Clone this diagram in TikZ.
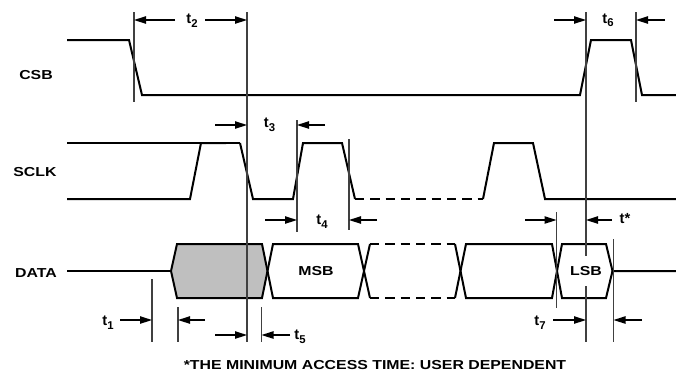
\documentclass[tikz,border=0pt]{standalone}
\usepackage{fontspec}
\setmainfont{Liberation Sans}
\usepackage{graphicx}
\usetikzlibrary{arrows.meta}
\newcommand{\stx}[1]{\scalebox{1.22}[1]{#1}}
\newcommand{\tsub}[1]{t\raisebox{-0.45ex}{\fontsize{8.5}{9}\selectfont #1}}
\tikzset{
  sig/.style={line width=1.5pt, line join=miter},
  idle/.style={line width=0.8pt},
  busdash/.style={line width=1.5pt, dash pattern=on 7pt off 4.5pt},
  vline/.style={line width=0.9pt, black!75},
  dim/.style={line width=1.1pt, -{Triangle[length=9pt,width=5.5pt]}},
  lab/.style={font=\bfseries\fontsize{9.75}{11}\selectfont, inner sep=0pt},
  tlab/.style={font=\bfseries\fontsize{11}{12}\selectfont, inner sep=0pt},
}
\begin{document}
\begin{tikzpicture}[x=0.75pt,y=-0.75pt]
\useasboundingbox (0,0) rectangle (676,376);

% vertical reference lines (x positions)
\coordinate (xA) at (134,0);
\coordinate (xB) at (247,0);
\coordinate (xC) at (586,0);
\coordinate (xD) at (636,0);
\coordinate (xE) at (297,0);
\coordinate (xF) at (349,0);
\coordinate (xG) at (556.5,0);
\coordinate (xH) at (152,0);
\coordinate (xI) at (178,0);
\coordinate (xJ) at (261.5,0);
\coordinate (xK) at (613.5,0);

% signal names
\node[lab] (csb) at (36,75.5) {\stx{CSB}};
\node[lab] (sclk) at (35,172) {\stx{SCLK}};
\node[lab] (data) at (36,273) {\stx{DATA}};

% CSB
\draw[sig] (67,40) -- (129,40) -- (142,95) -- (580,95) -- (591,40) -- (631,40) -- (642,95) -- (676,95);

% SCLK
\draw[idle] (67,143) -- (240,143);
\draw[sig] (67,199) -- (190,199) -- (201,143) -- (226,143);
\draw[sig] (240,143) -- (253,199) -- (293,199) -- (303,143) -- (342,143) -- (355,199);
\draw[busdash] (355,199) -- (483,199);
\draw[sig] (483,199) -- (494,143) -- (533,143) -- (545,199) -- (676,199);

% DATA
\fill[black!25] (171,271) -- (177,244) -- (262,244) -- (267.5,271) -- (262,298) -- (177,298) -- cycle;
\draw[sig] (67,271) -- (171,271);
\draw[sig] (171,271) -- (177,244) -- (262,244) -- (273,298) -- (358,298) -- (370,244);
\draw[sig] (171,271) -- (177,298) -- (262,298) -- (273,244) -- (358,244) -- (370,298);
\draw[busdash] (370,244) -- (455,244);
\draw[busdash] (370,298) -- (455,298);
\draw[sig] (455,244) -- (466,298) -- (552,298) -- (562,244) -- (606,244) -- (612.5,271) -- (676,271);
\draw[sig] (455,298) -- (466,244) -- (552,244) -- (562,298) -- (606,298) -- (612.5,271);
\node[lab] (msb) at (316,271) {\stx{MSB}};

% vertical lines
\draw[vline] (xA |- 0,12) -- (xA |- 0,102);
\draw[vline] (xB |- 0,12) -- (xB |- 0,342);
\draw[vline] (xC |- 0,12) -- (xC |- 0,256);
\draw[vline] (xC |- 0,286) -- (xC |- 0,342);
\draw[vline] (xD |- 0,12) -- (xD |- 0,102);
\draw[vline] (xE |- 0,120) -- (xE |- 0,232);
\draw[vline] (xF |- 0,139) -- (xF |- 0,230);
\draw[vline] (xG |- 0,212) -- (xG |- 0,308);
\draw[vline] (xH |- 0,279) -- (xH |- 0,342);
\draw[vline] (xI |- 0,307) -- (xI |- 0,342);
\draw[vline] (xJ |- 0,307) -- (xJ |- 0,342);
\draw[vline] (xK |- 0,239) -- (xK |- 0,342);
\node[lab] (lsb) at (586,271) {\stx{LSB}};

% timing labels
\node[tlab] (t2) at (192,20.5) {\tsub{2}};
\node[tlab] (t6) at (608,20.5) {\tsub{6}};
\node[tlab] (t3) at (269.5,125) {\tsub{3}};
\node[tlab] (t4) at (322,221.5) {\tsub{4}};
\node[tlab] (tst) at (625,219) {t*};
\node[tlab] (t1) at (108,322.5) {\tsub{1}};
\node[tlab] (t5) at (300,337) {\tsub{5}};
\node[tlab] (t7) at (540,322.5) {\tsub{7}};

% arrow tails
\coordinate (a2l) at (175,20);  \coordinate (a2r) at (205,20);
\coordinate (a6l) at (554,20);  \coordinate (a6r) at (665,20);
\coordinate (a3l) at (215,125); \coordinate (a3r) at (325,125);
\coordinate (a4l) at (265,220); \coordinate (a4r) at (377,220);
\coordinate (asl) at (525,220); \coordinate (asr) at (612,220);
\coordinate (a1l) at (120,320); \coordinate (a1r) at (205,320);
\coordinate (a5l) at (215,335); \coordinate (a5r) at (290,335);
\coordinate (a7l) at (553,320); \coordinate (a7r) at (642,320);

\draw[dim] (a2l) -- (a2l -| xA);
\draw[dim] (a2r) -- (a2r -| xB);
\draw[dim] (a6l) -- (a6l -| xC);
\draw[dim] (a6r) -- (a6r -| xD);
\draw[dim] (a3l) -- (a3l -| xB);
\draw[dim] (a3r) -- (a3r -| xE);
\draw[dim] (a4l) -- (a4l -| xE);
\draw[dim] (a4r) -- (a4r -| xF);
\draw[dim] (asl) -- (asl -| xG);
\draw[dim] (asr) -- (asr -| xC);
\draw[dim] (a1l) -- (a1l -| xH);
\draw[dim] (a1r) -- (a1r -| xI);
\draw[dim] (a5l) -- (a5l -| xB);
\draw[dim] (a5r) -- (a5r -| xJ);
\draw[dim] (a7l) -- (a7l -| xC);
\draw[dim] (a7r) -- (a7r -| xK);

% footnote
\node[lab] (note) at (375,365) {\stx{*THE MINIMUM ACCESS TIME: USER DEPENDENT}};
\end{tikzpicture}
\end{document}
